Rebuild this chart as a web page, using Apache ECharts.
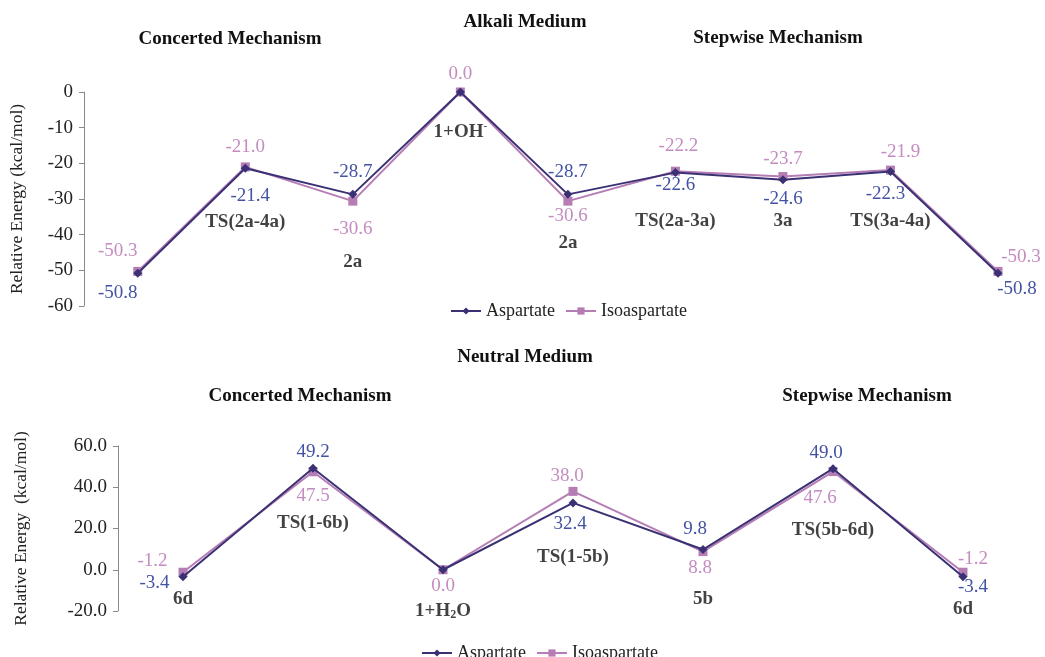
<!DOCTYPE html>
<html>
<head>
<meta charset="utf-8">
<script src="https://cdn.jsdelivr.net/npm/echarts@6/dist/echarts.min.js"></script>
<style>
  html, body { margin: 0; padding: 0; background: #fff; }
  #container { width: 1045px; height: 657px; }
</style>
</head>
<body>
<div id="container"></div>
<script>
// alkali medium (top panel)
const alkaliSteps = ['4a', 'TS(2a-4a)', '2a', '1+OH{sup|-}', '2a', 'TS(2a-3a)', '3a', 'TS(3a-4a)', '4a'];
const alkaliAsp = [-50.8, -21.4, -28.7, 0.0, -28.7, -22.6, -24.6, -22.3, -50.8];
const alkaliIso = [-50.3, -21.0, -30.6, 0.0, -30.6, -22.2, -23.7, -21.9, -50.3];
const alkaliTicks = [-60, -50, -40, -30, -20, -10, 0];

// neutral medium (bottom panel)
const neutralSteps = ['6d', 'TS(1-6b)', '1+H{sub|2}O', 'TS(1-5b)', '5b', 'TS(5b-6d)', '6d'];
const neutralAsp = [-3.4, 49.2, 0.0, 32.4, 9.8, 49.0, -3.4];
const neutralIso = [-1.2, 47.5, 0.0, 38.0, 8.8, 47.6, -1.2];
const neutralTicks = [-20, 0, 20, 40, 60];

// where the step names sit (in axis units), like the hand placed excel labels
const alkaliNameY = [-61, -36.4, -47.6, -11.2, -42.3, -36.1, -36.1, -36.1, -60.2];
const neutralNameY = [-14.3, 22.7, -20, 6.2, -14.3, 19.3, -19];

// label placement per point: [position, dx, dy]
const alkaliAspLbl = [['bottom', -20, 2], ['bottom', 5, 10], ['top', 0, -4], null, ['top', 0, -4],
  ['bottom', 0, -6], ['bottom', 0, 1], ['bottom', -5, 4], ['bottom', 19, -2]];
const alkaliIsoLbl = [['top', -20, -2], ['top', 0, -2], ['bottom', 0, 10], ['top', 0, 0], ['bottom', 0, -3],
  ['top', 3, -7], ['top', 0, 0], ['top', 10, 0], ['top', 23, 4]];
const neutralAspLbl = [['left', -5, 6], ['top', 0, 2], null, ['bottom', -3, 3], ['top', -8, -3],
  ['top', -7, 2], ['bottom', 10, -8]];
const neutralIsoLbl = [['left', -7, -11], ['bottom', 0, 6], ['bottom', 0, -2], ['top', -6, 3], ['bottom', -3, -2],
  ['bottom', -13, 8], ['top', 10, 5]];

const FONT = '"Liberation Serif", "Times New Roman", serif';
const ASP = '#3a3174';
const ISO = '#b67db4';
const ASP_TXT = '#4352a3';
const ISO_TXT = '#c48cc0';

function points(vals, lbls, color, digits) {
  return vals.map((v, i) => {
    let p = { value: [i, v] };
    let l = lbls[i];
    if (l) {
      p.label = { show: true, position: l[0], distance: 4, color: color,
        fontFamily: FONT, fontSize: 19, formatter: () => v.toFixed(digits) };
    } else {
      p.label = { show: false };
    }
    return p;
  });
}

function names(steps, ys) {
  return steps.map((s, i) => ({ value: [i, ys[i]], name: s }));
}

let richNames = {
  sup: { fontSize: 11, fontWeight: 'bold', fontFamily: FONT, color: '#111', padding: [0, 0, 12, 0] },
  sub: { fontSize: 12, fontWeight: 'bold', fontFamily: FONT, color: '#111', padding: [8, 0, 0, 0] }
};

function nameSeries(idx, data) {
  return {
    type: 'scatter', xAxisIndex: idx, yAxisIndex: idx, symbolSize: 0, silent: true,
    data: data,
    label: {
      show: true, position: 'inside', color: '#111', fontFamily: FONT, fontWeight: 'bold', fontSize: 19,
      formatter: p => p.name, rich: richNames
    }
  };
}

function lineSeries(name, idx, data, lbls, color, symbol, size) {
  return {
    name: name, type: 'line', xAxisIndex: idx, yAxisIndex: idx, data: data,
    symbol: symbol, symbolSize: size, showAllSymbol: true,
    lineStyle: { color: color, width: 2 },
    itemStyle: { color: color },
    // nudge each value label like the original
    labelLayout: function (params) {
      let l = lbls[params.dataIndex];
      return l ? { dx: l[1], dy: l[2], hideOverlap: false } : {};
    },
    z: name === 'Aspartate' ? 3 : 2
  };
}

function titleAt(text, x, y) {
  return { text: text, left: x, top: y, textAlign: 'center',
    textStyle: { fontFamily: FONT, fontSize: 19, fontWeight: 'bold', color: '#111' } };
}

function yAxisFor(idx, ticks, gap, digits) {
  return {
    type: 'value', gridIndex: idx, min: ticks[0], max: ticks[ticks.length - 1],
    interval: ticks[1] - ticks[0],
    name: idx === 0 ? 'Relative Energy (kcal/mol)' : 'Relative Energy  (kcal/mol)',
    nameLocation: 'middle', nameGap: gap, nameRotate: 90,
    nameTextStyle: { fontFamily: FONT, fontSize: 17.5, color: '#222' },
    axisLine: { show: true, onZero: false, lineStyle: { color: '#8a8a8a', width: 1 } },
    axisTick: { show: true, length: 5, lineStyle: { color: '#8a8a8a' } },
    splitLine: { show: false },
    axisLabel: { fontFamily: FONT, fontSize: 19, color: '#222', margin: 11,
      formatter: v => v.toFixed(digits) }
  };
}

let myChart = echarts.init(document.getElementById('container'));

myChart.setOption({
  animation: false,
  backgroundColor: '#fff',
  title: [
    titleAt('Alkali Medium', 520, 8),
    titleAt('Concerted Mechanism', 225, 25),
    titleAt('Stepwise Mechanism', 773, 24),
    titleAt('Neutral Medium', 520, 343),
    titleAt('Concerted Mechanism', 295, 382),
    titleAt('Stepwise Mechanism', 862, 382)
  ],
  legend: [
    { left: 445, top: 297, itemWidth: 30, itemHeight: 9, itemGap: 10,
      textStyle: { fontFamily: FONT, fontSize: 18, color: '#222' }, data: ['Aspartate', 'Isoaspartate'] },
    { left: 416, top: 639, itemWidth: 30, itemHeight: 9, itemGap: 10,
      textStyle: { fontFamily: FONT, fontSize: 18, color: '#222' }, data: ['Aspartate', 'Isoaspartate'] }
  ],
  grid: [
    { left: 80, right: 4, top: 92, bottom: 351 },
    { left: 118, right: 17, top: 446, bottom: 46 }
  ],
  xAxis: [
    { type: 'value', gridIndex: 0, min: -0.5, max: 8.4, show: false },
    { type: 'value', gridIndex: 1, min: -0.5, max: 6.5, show: false }
  ],
  yAxis: [
    yAxisFor(0, alkaliTicks, 58, 0),
    yAxisFor(1, neutralTicks, 88, 1)
  ],
  series: [
    lineSeries('Isoaspartate', 0, points(alkaliIso, alkaliIsoLbl, ISO_TXT, 1), alkaliIsoLbl, ISO, 'rect', 9),
    lineSeries('Aspartate', 0, points(alkaliAsp, alkaliAspLbl, ASP_TXT, 1), alkaliAspLbl, ASP, 'diamond', 9),
    nameSeries(0, names(alkaliSteps, alkaliNameY)),
    lineSeries('Isoaspartate', 1, points(neutralIso, neutralIsoLbl, ISO_TXT, 1), neutralIsoLbl, ISO, 'rect', 9),
    lineSeries('Aspartate', 1, points(neutralAsp, neutralAspLbl, ASP_TXT, 1), neutralAspLbl, ASP, 'diamond', 9),
    nameSeries(1, names(neutralSteps, neutralNameY))
  ]
});
</script>
</body>
</html>
